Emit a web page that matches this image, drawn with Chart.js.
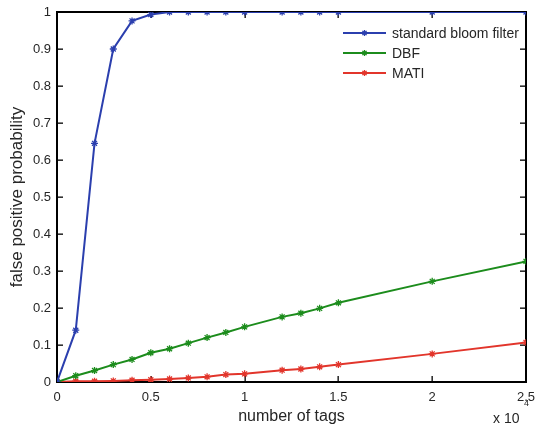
<!DOCTYPE html>
<html>
<head>
<meta charset="utf-8">
<script src="https://cdn.jsdelivr.net/npm/chart.js@4/dist/chart.umd.min.js"></script>
<style>
html,body{margin:0;padding:0;background:#fff;}
canvas{display:block;}
</style>
</head>
<body>
<canvas id="c" width="536" height="429"></canvas>
<script>
const tags = [0, 1000, 2000, 3000, 4000, 5000, 6000, 7000, 8000, 9000, 10000, 12000, 13000, 14000, 15000, 20000, 25000];
const standardBloom = [0, 0.14, 0.645, 0.90, 0.976, 0.993, 1.0, 1.0, 1.0, 1.0, 1.0, 1.0, 1.0, 1.0, 1.0, 1.0, 1.0];
const dbf = [0, 0.017, 0.031, 0.047, 0.061, 0.079, 0.090, 0.105, 0.120, 0.134, 0.149, 0.176, 0.186, 0.199, 0.214, 0.272, 0.326];
const mati = [0, 0.002, 0.002, 0.003, 0.005, 0.006, 0.008, 0.011, 0.014, 0.020, 0.022, 0.032, 0.035, 0.041, 0.047, 0.076, 0.107];
const seriesNames = ['standard bloom filter', 'DBF', 'MATI'];
const seriesColors = ['#2b3fae', '#1c8c1c', '#e2352b'];
const xTicks = [0, 5000, 10000, 15000, 20000, 25000];
const yTicks = [0, 0.1, 0.2, 0.3, 0.4, 0.5, 0.6, 0.7, 0.8, 0.9, 1];
const xTitle = 'number of tags';
const yTitle = 'false positive probability';
const xExponent = '4';

const FONT = "'Liberation Sans', Arial, Helvetica, sans-serif";
const TXT = '#262626';

function mk(name, vals, color) {
  return {
    label: name,
    data: tags.map((t, i) => ({x: t, y: vals[i]})),
    borderColor: color,
    backgroundColor: color,
    borderWidth: 2,
    pointStyle: 'star',
    pointRadius: 3.5,
    pointBorderWidth: 1.3,
    pointBorderColor: color,
    fill: false,
    tension: 0
  };
}

function drawStar(ctx, cx, y, r) {
  ctx.beginPath();
  ctx.moveTo(cx - r, y); ctx.lineTo(cx + r, y);
  ctx.moveTo(cx, y - r); ctx.lineTo(cx, y + r);
  const d = r * Math.SQRT1_2;
  ctx.moveTo(cx - d, y - d); ctx.lineTo(cx + d, y + d);
  ctx.moveTo(cx - d, y + d); ctx.lineTo(cx + d, y - d);
  ctx.stroke();
}

const boxPlugin = {
  id: 'matlabBox',
  beforeDatasetsDraw(chart) {
    const ctx = chart.ctx;
    const a = chart.chartArea;
    const xs = chart.scales.x, ys = chart.scales.y;
    const L0 = Math.round(a.left), T0 = Math.round(a.top), R0 = Math.round(a.right), B0 = Math.round(a.bottom);
    ctx.save();
    ctx.fillStyle = '#000000';
    ctx.fillRect(L0 - 1, T0 - 1, R0 - L0 + 2, 2);
    ctx.fillRect(L0 - 1, B0 - 1, R0 - L0 + 2, 2);
    ctx.fillRect(L0 - 1, T0 - 1, 2, B0 - T0 + 2);
    ctx.fillRect(R0 - 1, T0 - 1, 2, B0 - T0 + 2);
    const L = 6;
    xTicks.forEach(v => {
      const px = Math.round(xs.getPixelForValue(v));
      ctx.fillRect(px - 0.5, B0 - L, 1.3, L);
      ctx.fillRect(px - 0.5, T0, 1.3, L);
    });
    yTicks.forEach(v => {
      const py = Math.round(ys.getPixelForValue(v));
      ctx.fillRect(L0, py - 0.5, L, 1.3);
      ctx.fillRect(R0 - L, py - 0.5, L, 1.3);
    });
    ctx.restore();
  },
  afterDraw(chart) {
    const ctx = chart.ctx;
    ctx.save();
    ctx.fillStyle = TXT;
    ctx.textBaseline = 'alphabetic';
    ctx.textAlign = 'left';
    ctx.font = '14px ' + FONT;
    ctx.fillText('x 10', 493, 423);
    ctx.font = '9px ' + FONT;
    ctx.fillText(xExponent, 524, 406);

    const lx0 = 343, lx1 = 386, tx = 392;
    const rows = [33, 53, 73];
    chart.data.datasets.forEach((ds, i) => {
      const y = rows[i];
      ctx.strokeStyle = ds.borderColor;
      ctx.lineWidth = 2;
      ctx.beginPath();
      ctx.moveTo(lx0, y); ctx.lineTo(lx1, y);
      ctx.stroke();
      ctx.lineWidth = 1.3;
      drawStar(ctx, (lx0 + lx1) / 2, y, 3);
      ctx.fillStyle = TXT;
      ctx.font = '14px ' + FONT;
      ctx.textBaseline = 'middle';
      ctx.fillText(ds.label, tx, y + 1);
    });
    ctx.restore();
  }
};

new Chart(document.getElementById('c'), {
  type: 'line',
  data: {
    datasets: [
      mk(seriesNames[0], standardBloom, seriesColors[0]),
      mk(seriesNames[1], dbf, seriesColors[1]),
      mk(seriesNames[2], mati, seriesColors[2])
    ]
  },
  plugins: [boxPlugin],
  options: {
    responsive: false,
    animation: false,
    layout: {padding: {top: 12, right: 10, left: 0, bottom: 0}},
    plugins: {legend: {display: false}, tooltip: {enabled: false}},
    scales: {
      x: {
        type: 'linear',
        min: 0, max: 25000,
        afterBuildTicks: s => { s.ticks = xTicks.map(v => ({value: v})); },
        afterFit: s => { s.height = 47; s.paddingLeft = 0; s.paddingRight = 0; },
        grid: {display: false, drawTicks: false},
        border: {display: true, color: '#000', width: 1},
        ticks: {
          color: TXT, font: {family: FONT, size: 13}, padding: 8, maxRotation: 0,
          callback: v => String(v / 10000)
        },
        title: {display: true, text: xTitle, color: TXT, font: {family: FONT, size: 16}, padding: {top: 0, bottom: 3}}
      },
      y: {
        type: 'linear',
        min: 0, max: 1,
        afterBuildTicks: s => { s.ticks = yTicks.map(v => ({value: v})); },
        afterFit: s => { s.width = 57; s.paddingTop = 0; s.paddingBottom = 0; },
        grid: {display: false, drawTicks: false},
        border: {display: true, color: '#000', width: 1},
        ticks: {
          color: TXT, font: {family: FONT, size: 13}, padding: 6,
          callback: v => (v === 0 || v === 1) ? String(v) : v.toFixed(1)
        },
        title: {display: true, text: yTitle, color: TXT, font: {family: FONT, size: 17}, padding: {top: 7, bottom: 0}}
      }
    }
  }
});
</script>
</body>
</html>
